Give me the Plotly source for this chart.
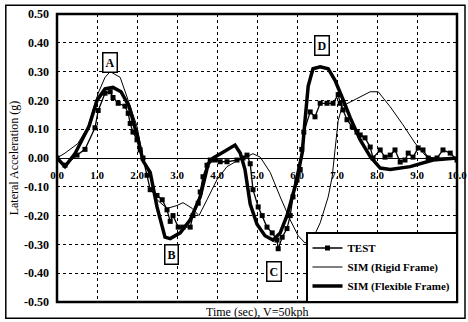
import plotly.graph_objects as go

# ---- data ----
test_t = [0, 0.2, 0.5, 0.7, 0.95, 1.03, 1.2, 1.33, 1.4, 1.53, 1.7, 1.78, 1.83, 1.9, 2.0, 2.08, 2.15,
          2.25, 2.33, 2.5, 2.63, 2.75, 2.83, 2.9, 3.03, 3.15, 3.33, 3.4, 3.53, 3.58, 3.65, 3.75, 3.83,
          3.95, 4.08, 4.25, 4.5, 4.65, 4.75, 4.83, 4.9, 5.03, 5.13, 5.25, 5.38, 5.5, 5.53, 5.63, 5.75,
          5.83, 5.9, 6.0, 6.08, 6.12, 6.17, 6.33, 6.45, 6.58, 6.75, 6.9, 7.03, 7.08, 7.15, 7.25, 7.38,
          7.5, 7.58, 7.7, 7.83, 7.9, 8.08, 8.2, 8.33, 8.45, 8.58, 8.7, 8.78, 8.9, 9.03, 9.15, 9.28,
          9.5, 9.65, 9.83, 10.0]
test_a = [0, -0.025, 0.01, 0.03, 0.105, 0.165, 0.225, 0.23, 0.21, 0.19, 0.18, 0.155, 0.12, 0.09, 0.063, 0.028, 0.0,
          -0.06, -0.11, -0.13, -0.145, -0.18, -0.22, -0.2, -0.24, -0.24, -0.24, -0.2, -0.157, -0.118, -0.065, -0.025, -0.007,
          -0.007, -0.013, -0.013, -0.007, 0.0, 0.01, -0.02, -0.11, -0.17, -0.2, -0.24, -0.26, -0.285, -0.315, -0.275, -0.245,
          -0.2, -0.135, -0.077, -0.04, 0.03, 0.09, 0.16, 0.143, 0.19, 0.19, 0.19, 0.22, 0.19, 0.167, 0.133, 0.108,
          0.09, 0.08, 0.07, 0.038, 0.0, 0.028, 0.003, 0.01, 0.028, -0.014, -0.007, 0.017, 0.003, 0.035, 0.028, 0.0,
          0.0, 0.028, 0.017, -0.007]

rigid_t = [0, 0.2, 0.52, 0.78, 1.03, 1.2, 1.33, 1.58, 1.78, 2.0, 2.15, 2.33, 2.5, 2.75, 3.0, 3.15, 3.38, 3.55,
           3.75, 4.0, 4.25, 4.5, 4.75, 4.9, 5.08, 5.33, 5.58, 5.83, 6.03, 6.2, 6.38, 6.58, 6.78, 6.88, 6.95,
           7.03, 7.13, 7.33, 7.53, 7.83, 8.03, 8.33, 8.65, 8.95, 9.2, 9.4, 10.0]
rigid_a = [0, 0.017, 0.05, 0.11, 0.225, 0.28, 0.30, 0.28, 0.2, 0.11, 0.0, -0.065, -0.145, -0.175, -0.165, -0.155, -0.175, -0.2,
           -0.145, -0.075, -0.03, -0.01, 0.005, 0.015, 0.003, -0.05, -0.135, -0.215, -0.27, -0.295, -0.285, -0.225, -0.135, -0.065, 0.028,
           0.13, 0.18, 0.195, 0.21, 0.23, 0.23, 0.178, 0.115, 0.052, 0.01, 0.0, 0.0]

flex_t = [0, 0.2, 0.45, 0.8, 1.0, 1.2, 1.4, 1.6, 1.8, 2.0, 2.15, 2.33, 2.5, 2.7, 2.83, 3.08, 3.33, 3.58, 3.78,
          3.9, 4.15, 4.45, 4.58, 4.7, 4.83, 5.0, 5.2, 5.4, 5.58, 5.75, 5.95, 6.13, 6.2, 6.28, 6.4, 6.58,
          6.78, 6.95, 7.13, 7.33, 7.58, 7.83, 8.08, 8.33, 8.83, 9.4, 10.0]
flex_a = [0, -0.03, 0.015, 0.11, 0.2, 0.24, 0.245, 0.23, 0.18, 0.08, -0.01, -0.05, -0.17, -0.275, -0.28, -0.26, -0.215, -0.135, -0.02,
          0.0, 0.02, 0.045, 0.017, -0.04, -0.16, -0.23, -0.27, -0.285, -0.26, -0.2, -0.1, 0.017, 0.13, 0.25, 0.31, 0.317,
          0.31, 0.27, 0.21, 0.14, 0.063, 0.005, -0.035, -0.04, -0.03, -0.007, 0.0]

x_ticks = [0, 1, 2, 3, 4, 5, 6, 7, 8, 9, 10]
y_ticks = [0.5, 0.4, 0.3, 0.2, 0.1, 0.0, -0.1, -0.2, -0.3, -0.4, -0.5]
labels = ["A", "B", "C", "D"]
label_t = [1.32, 2.87, 5.42, 6.62]
label_a = [0.33, -0.335, -0.395, 0.39]

FONT = "Liberation Serif"

fig = go.Figure()
fig.add_trace(go.Scatter(x=test_t, y=test_a, name="<b>TEST</b>", mode="lines+markers",
                         line=dict(color="black", width=1.3),
                         marker=dict(symbol="square", size=5, color="black")))
fig.add_trace(go.Scatter(x=rigid_t, y=rigid_a, name="<b>SIM (Rigid Frame)</b>", mode="lines",
                         line=dict(color="black", width=1)))
fig.add_trace(go.Scatter(x=flex_t, y=flex_a, name="<b>SIM (Flexible Frame)</b>", mode="lines",
                         line=dict(color="black", width=3.5)))

for lab, t, a in zip(labels, label_t, label_a):
    fig.add_annotation(x=t, y=a, text="<b>" + lab + "</b>", showarrow=False,
                       font=dict(family=FONT, size=12, color="black"),
                       bordercolor="black", borderwidth=1.5, borderpad=2, bgcolor="white")

fig.update_layout(
    width=468, height=322,
    margin=dict(l=57, r=11, t=14, b=20, autoexpand=False),
    paper_bgcolor="white", plot_bgcolor="white",
    font=dict(family=FONT, size=11, color="black"),
    showlegend=True,
    legend=dict(x=1, y=0, xanchor="right", yanchor="bottom",
                bordercolor="black", borderwidth=1.5, bgcolor="white",
                font=dict(family=FONT, size=11, color="black"),
                itemwidth=30, tracegroupgap=0, traceorder="normal"),
    xaxis=dict(range=[0, 10], tickvals=x_ticks, ticktext=["<b>%.1f</b>" % v for v in x_ticks],
               showgrid=True, gridcolor="black", griddash="3px,3px", gridwidth=1,
               showline=False, zeroline=False, ticks="",
               anchor="free", position=0.5, ticklabelstandoff=9,
               tickfont=dict(family=FONT, size=11, color="black")),
    yaxis=dict(range=[-0.5, 0.5], tickvals=y_ticks, ticktext=["<b>%.2f</b>" % v for v in y_ticks],
               showgrid=True, gridcolor="black", griddash="3px,3px", gridwidth=1,
               zeroline=True, zerolinecolor="black", zerolinewidth=1,
               showline=False, ticks="", ticklen=0, ticklabelstandoff=7,
               title=dict(text="Lateral Acceleration (g)", standoff=2,
                          font=dict(family=FONT, size=12, color="black")),
               tickfont=dict(family=FONT, size=12, color="black")),
)

# plot frame
fig.add_shape(type="rect", xref="paper", yref="paper", x0=0, x1=1, y0=0, y1=1,
              line=dict(color="black", width=2.5), layer="above")
# outer border
fig.add_shape(type="rect", xref="paper", yref="paper", x0=-0.128, x1=1.02, y0=-0.056, y1=1.03,
              line=dict(color="black", width=1.5), layer="above")

fig.add_annotation(xref="paper", yref="paper", x=0.5, y=-0.035, yanchor="middle",
                   text="Time (sec), V=50kph", showarrow=False,
                   font=dict(family=FONT, size=12, color="black"))

fig.write_html("out.html", config={"displayModeBar": False},
               post_script="document.body.style.margin='0';document.body.style.overflow='hidden';")
